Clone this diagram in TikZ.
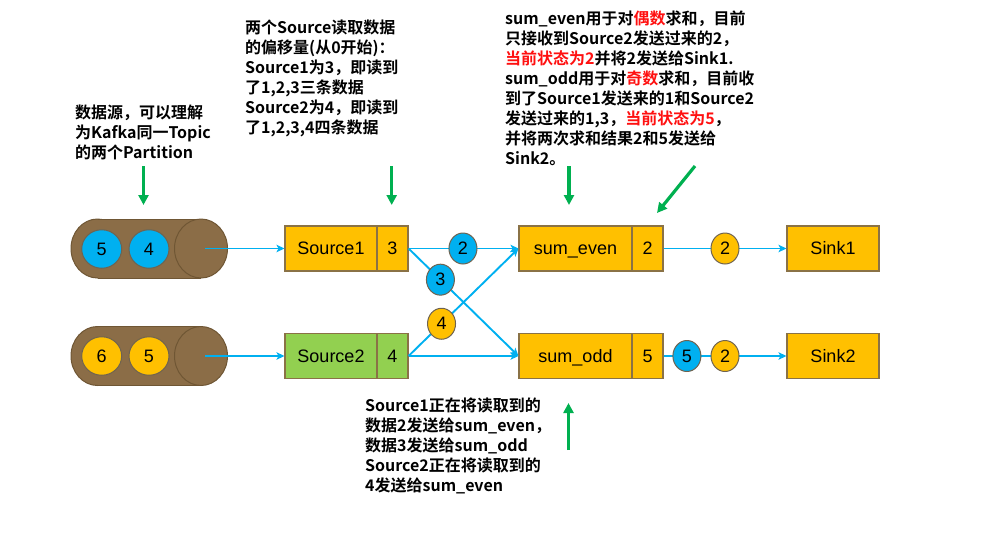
\documentclass[tikz,border=0pt]{standalone}
\usepackage{fontspec}
\setmainfont{Liberation Sans}
\newfontfamily\cjk{Noto Sans CJK SC Bold}
\usetikzlibrary{arrows.meta,shapes.geometric}
\definecolor{boxy}{HTML}{FFC000}
\definecolor{boxg}{HTML}{92D050}
\definecolor{ballb}{HTML}{00B0F0}
\definecolor{conn}{HTML}{00B0F0}
\definecolor{bord}{HTML}{8A7246}
\definecolor{ballbord}{HTML}{6F6350}
\definecolor{cylf}{HTML}{8B6D47}
\definecolor{cyld}{HTML}{6F5634}
\definecolor{garr}{HTML}{00B050}
\definecolor{redt}{HTML}{FF1010}
\begin{document}
\begin{tikzpicture}[x=1pt,y=-1pt,
  box/.style={draw=bord, line width=1.1pt, minimum height=45pt, inner sep=0pt,
    text height=12pt, text depth=0pt,
    font=\fontsize{18}{20}\selectfont, anchor=center},
  namebox/.style={box, minimum width=92pt},
  numbox/.style={box, minimum width=31pt},
  ball/.style={ellipse, draw=ballbord, line width=1pt, inner sep=0pt,
    text height=12pt, text depth=0pt,
    minimum width=40pt, minimum height=38.5pt, font=\fontsize{18}{20}\selectfont},
  minib/.style={ellipse, draw=ballbord, line width=1pt, inner sep=0pt,
    text height=12pt, text depth=0pt,
    minimum width=28pt, minimum height=31pt, font=\fontsize{18}{20}\selectfont},
  link/.style={draw=conn, line width=1.9pt, -{Stealth[length=8pt,width=7.5pt,inset=2pt]}},
  garrow/.style={draw=garr, line width=3.2pt, -{Triangle[length=10pt,width=10pt]}},
  note/.style={font=\cjk\fontsize{16}{20}\selectfont, align=left, inner sep=0pt, anchor=north west},
]
\useasboundingbox (0,0) rectangle (996,533);

% cylinders
\foreach \cy in {248.5,356} {
  \filldraw[fill=cylf, draw=cyld, line width=1pt] (97.5,\cy) ellipse [x radius=26.5, y radius=29.5];
  \fill[cylf] (97.5,\cy-29.5) rectangle (201,\cy+29.5);
  \draw[cyld, line width=1pt] (97.5,\cy-29.5) -- (201,\cy-29.5);
  \draw[cyld, line width=1pt] (97.5,\cy+29.5) -- (201,\cy+29.5);
  \filldraw[fill=cylf, draw=cyld, line width=1pt] (201,\cy) ellipse [x radius=26.5, y radius=29.5];
}
\coordinate (c1) at (205,248.5);
\coordinate (c2) at (205,356);

\node[ball, fill=ballb] (p5) at (101.7,249) {5};
\node[ball, fill=ballb] (p4) at (149,249) {4};
\node[ball, fill=boxy] (q6) at (101.7,356) {6};
\node[ball, fill=boxy] (q5) at (149,356) {5};

% boxes
\node[namebox, fill=boxy] (s1) at (331,248.5) {Source1};
\node[numbox, fill=boxy] (s1n) at (392.5,248.5) {3};
\node[namebox, fill=boxg] (s2) at (331,356) {Source2};
\node[numbox, fill=boxg] (s2n) at (392.5,356) {4};
\node[box, minimum width=113pt, fill=boxy] (se) at (575.5,248.5) {sum\_even};
\node[numbox, fill=boxy] (sen) at (647.5,248.5) {2};
\node[box, minimum width=113pt, fill=boxy] (so) at (575.5,356) {sum\_odd};
\node[numbox, fill=boxy] (son) at (647.5,356) {5};
\node[namebox, fill=boxy] (k1) at (833,248.5) {Sink1};
\node[namebox, fill=boxy] (k2) at (833,356) {Sink2};

% connectors
\draw[link] (c1) -- (s1.west);
\draw[link] (c2) -- (s2.west);
\draw[link] (s1n.east) -- (se.west) node[minib, fill=ballb, pos=0.495] (b2) {2};
\draw[link] (s2n.east) -- (so.west);
\draw[link] (s1n.east) -- (so.west) node[minib, fill=ballb, pos=0.29] (b3) {3};
\draw[link] (s2n.east) -- (se.west) node[minib, fill=boxy, pos=0.3] (b4) {4};
\draw[link] (sen.east) -- (k1.west) node[minib, fill=boxy, pos=0.5] (y2) {2};
\draw[link] (son.east) -- (k2.west)
  node[minib, fill=ballb, pos=0.19] (z5) {5}
  node[minib, fill=boxy, pos=0.5] (z2) {2};

% notes
\node[note] (n1) at (75,104.5) {数据源，可以理解\\为Kafka同一Topic\\的两个Partition};
\node[note] (n2) at (245,19.5) {两个Source读取数据\\的偏移量(从0开始)：\\Source1为3，即读到\\了1,2,3三条数据\\Source2为4，即读到\\了1,2,3,4四条数据};
\node[note] (n3) at (505,11) {sum\_even用于对{\color{redt}偶数}求和，目前\\只接收到Source2发送过来的2，\\{\color{redt}当前状态为2}并将2发送给Sink1.\\sum\_odd用于对{\color{redt}奇数}求和，目前收\\到了Source1发送来的1和Source2\\发送过来的1,3，{\color{redt}当前状态为5}，\\并将两次求和结果2和5发送给\\Sink2。};
\node[note] (n4) at (365,398) {Source1正在将读取到的\\数据2发送给sum\_even，\\数据3发送给sum\_odd\\Source2正在将读取到的\\4发送给sum\_even};

% green pointers
\coordinate (g1a) at (143.5,166); \coordinate (g1b) at (143.5,205);
\coordinate (g2a) at (391.7,166); \coordinate (g2b) at (391.7,205);
\coordinate (g3a) at (569,166); \coordinate (g3b) at (569,205);
\coordinate (g4a) at (695,166); \coordinate (g4b) at (657,213);
\coordinate (g5a) at (568.5,450); \coordinate (g5b) at (568.5,403);
\draw[garrow] (g1a) -- (g1b);
\draw[garrow] (g2a) -- (g2b);
\draw[garrow] (g3a) -- (g3b);
\draw[garrow] (g4a) -- (g4b);
\draw[garrow] (g5a) -- (g5b);
\end{tikzpicture}
\end{document}
